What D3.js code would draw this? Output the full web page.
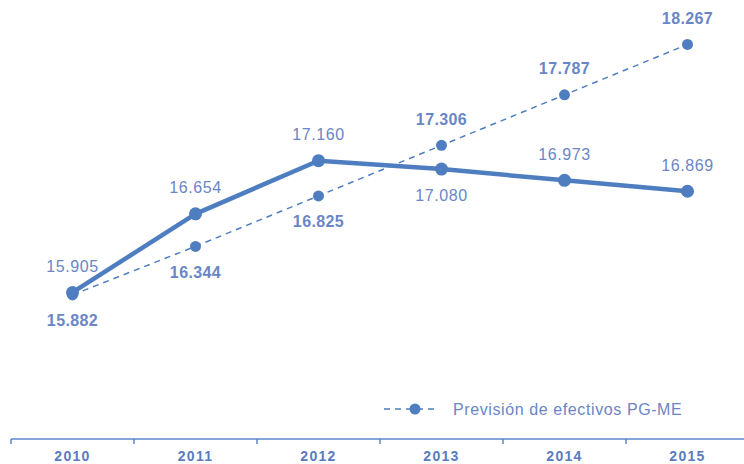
<!DOCTYPE html>
<html>
<head>
<meta charset="utf-8">
<script src="https://cdn.jsdelivr.net/npm/d3@7"></script>
<style>
  body { margin: 0; background: #fff; }
  svg { display: block; font-family: "Liberation Sans", Arial, sans-serif; }
</style>
</head>
<body>
<div id="chart"></div>
<script>
const years = ["2010", "2011", "2012", "2013", "2014", "2015"];
const realValues = [15.905, 16.654, 17.160, 17.080, 16.973, 16.869];
const forecastValues = [15.882, 16.344, 16.825, 17.306, 17.787, 18.267];
const forecastName = "Previsión de efectivos PG-ME";

// label above (-1) or below (+1) the point
const realSide = [-1, -1, -1, 1, -1, -1];
const forecastSide = [1, 1, 1, -1, -1, -1];

const W = 744, H = 464;
const lineColor = "#4f7ec0";
const labelColor = "#6a86c6";
const axisColor = "#5b7bbd";

const svg = d3.select("#chart").append("svg")
    .attr("width", W)
    .attr("height", H);

const x = d3.scaleBand()
    .domain(years)
    .range([11, 749])
    .padding(0);

const y = d3.scaleLinear()
    .domain([14.5, 18.5])
    .range([440, 20]);

const fmt = v => v.toFixed(3);
const cx = yr => x(yr) + x.bandwidth() / 2;

// x axis
const axisY = y(14.5) - 1;
svg.append("line")
    .attr("x1", 11).attr("x2", W)
    .attr("y1", axisY).attr("y2", axisY)
    .attr("stroke", "#5b87c8")
    .attr("stroke-width", 1.5);

svg.selectAll(".tick-mark")
    .data(years)
    .enter().append("line")
    .attr("class", "tick-mark")
    .attr("x1", d => x(d)).attr("x2", d => x(d))
    .attr("y1", axisY).attr("y2", axisY + 5)
    .attr("stroke", "#5b87c8")
    .attr("stroke-width", 1.5);

const xAxis = svg.append("g")
    .attr("transform", `translate(0,${axisY})`)
    .call(d3.axisBottom(x).tickSize(0).tickPadding(12));
xAxis.select(".domain").remove();
xAxis.selectAll("text")
    .style("font-family", "'Liberation Sans', Arial, sans-serif")
    .style("font-size", "14px")
    .style("font-weight", "bold")
    .style("letter-spacing", "1.3px")
    .style("fill", axisColor);

const realData = years.map((yr, i) => ({ yr, v: realValues[i], side: realSide[i] }));
const forecastData = years.map((yr, i) => ({ yr, v: forecastValues[i], side: forecastSide[i] }));

const line = d3.line()
    .x(d => cx(d.yr))
    .y(d => y(d.v));

// forecast dashed series
svg.append("path")
    .datum(forecastData)
    .attr("fill", "none")
    .attr("stroke", lineColor)
    .attr("stroke-width", 1.5)
    .attr("stroke-dasharray", "6,5")
    .attr("d", line);

svg.selectAll(".f-dot")
    .data(forecastData)
    .enter().append("circle")
    .attr("class", "f-dot")
    .attr("cx", d => cx(d.yr))
    .attr("cy", d => y(d.v))
    .attr("r", 5.5)
    .attr("fill", lineColor);

// real solid series
svg.append("path")
    .datum(realData)
    .attr("fill", "none")
    .attr("stroke", lineColor)
    .attr("stroke-width", 4.5)
    .attr("stroke-linejoin", "round")
    .attr("d", line);

svg.selectAll(".r-dot")
    .data(realData)
    .enter().append("circle")
    .attr("class", "r-dot")
    .attr("cx", d => cx(d.yr))
    .attr("cy", d => y(d.v))
    .attr("r", 6.5)
    .attr("fill", lineColor);

// labels
svg.selectAll(".r-label")
    .data(realData)
    .enter().append("text")
    .attr("class", "r-label")
    .attr("x", d => cx(d.yr))
    .attr("y", d => y(d.v) + d.side * 26)
    .attr("dy", "0.35em")
    .attr("text-anchor", "middle")
    .style("font-size", "16px")
    .style("letter-spacing", "0.6px")
    .style("fill", labelColor)
    .text(d => fmt(d.v));

svg.selectAll(".f-label")
    .data(forecastData)
    .enter().append("text")
    .attr("class", "f-label")
    .attr("x", d => cx(d.yr))
    .attr("y", d => y(d.v) + d.side * 26)
    .attr("dy", "0.35em")
    .attr("text-anchor", "middle")
    .style("font-size", "16px")
    .style("font-weight", "bold")
    .style("letter-spacing", "0.4px")
    .style("fill", labelColor)
    .text(d => fmt(d.v));

// legend
const legend = svg.append("g").attr("transform", "translate(384,409)");
legend.append("line")
    .attr("x1", 0).attr("x2", 52)
    .attr("y1", 0).attr("y2", 0)
    .attr("stroke", lineColor)
    .attr("stroke-width", 1.5)
    .attr("stroke-dasharray", "6,5");
legend.append("circle")
    .attr("cx", 31).attr("cy", 0)
    .attr("r", 5.5)
    .attr("fill", lineColor);
legend.append("text")
    .attr("x", 69).attr("y", 0)
    .attr("dy", "0.35em")
    .style("font-size", "16px")
    .style("letter-spacing", "0.6px")
    .style("fill", labelColor)
    .text(forecastName);
</script>
</body>
</html>
